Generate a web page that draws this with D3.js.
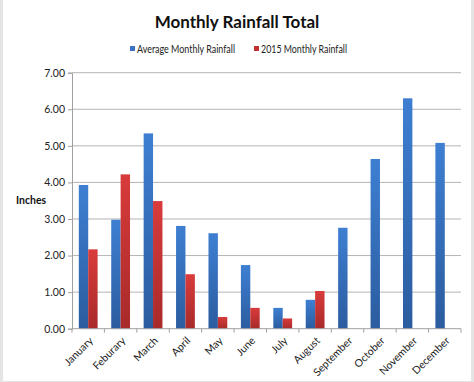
<!DOCTYPE html>
<html><head><meta charset="utf-8">
<script src="https://cdn.jsdelivr.net/npm/d3@7"></script>
<style>
html,body{margin:0;padding:0;background:#e4e4e4;}
svg{display:block;}
</style></head>
<body>
<svg id="c" width="474" height="382"></svg>
<script>
const months = ["January","Feburary","March","April","May","June","July","August","September","October","November","December"];
const avgRain = [3.93,2.98,5.34,2.81,2.61,1.74,0.57,0.79,2.76,4.64,6.30,5.08];
const rain2015 = [2.17,4.22,3.49,1.49,0.32,0.57,0.28,1.03,null,null,null,null];
const yTicks = [0,1,2,3,4,5,6,7];
const seriesNames = ["Average Monthly Rainfall","2015 Monthly Rainfall"];

const svg = d3.select("#c");
const font = "Lato, 'Open Sans', sans-serif";
svg.append("rect").attr("x",3).attr("y",0).attr("width",468).attr("height",381).attr("fill","#fff");

const defs = svg.append("defs");
function grad(id, c1, c2){
  const g = defs.append("linearGradient").attr("id",id).attr("x1",0).attr("y1",0).attr("x2",0).attr("y2",1);
  g.append("stop").attr("offset","0%").attr("stop-color",c1);
  g.append("stop").attr("offset","100%").attr("stop-color",c2);
}
grad("gb","#3e7fd2","#2b5c9f");
grad("gr","#d93b3b","#a82a2a");

const L=72, R=461, T=72.7, B=328.7;
const x = d3.scaleBand().domain(months).range([L,R]).paddingInner(0.42).paddingOuter(0.21);
const x1 = d3.scaleBand().domain([0,1]).range([0,x.bandwidth()]);
const y = d3.scaleLinear().domain([0,7]).range([B,T]);

// gridlines
svg.append("g").selectAll("line").data(yTicks.filter(d=>d>0)).join("line")
  .attr("x1",L).attr("x2",R).attr("y1",d=>y(d)).attr("y2",d=>y(d))
  .attr("stroke","#b4b4b4").attr("stroke-width",1);

// y axis
const ya = svg.append("g").attr("transform",`translate(${L},0)`)
  .call(d3.axisLeft(y).tickValues(yTicks).tickFormat(d3.format(".2f")).tickSize(4).tickPadding(3));
ya.select(".domain").attr("stroke","#a0a0a0");
ya.selectAll(".tick line").attr("stroke","#a0a0a0");
ya.selectAll("text").attr("font-family",font).attr("font-size",10.5).attr("fill","#222");

// bars
const g = svg.append("g");
months.forEach((m,i)=>{
  [avgRain[i], rain2015[i]].forEach((v,j)=>{
    if(v==null) return;
    g.append("rect").attr("x",x(m)+x1(j)).attr("width",x1.bandwidth())
      .attr("y",y(v)).attr("height",B-y(v)).attr("fill",j===0?"url(#gb)":"url(#gr)");
  });
});

// x axis
const xa = svg.append("g").attr("transform",`translate(0,${B})`);
xa.append("line").attr("x1",L).attr("x2",R).attr("stroke","#a0a0a0");
const step = x.step();
xa.selectAll(".tk").data(d3.range(13)).join("line").attr("class","tk")
  .attr("x1",d=>L+d*step).attr("x2",d=>L+d*step).attr("y1",0).attr("y2",4).attr("stroke","#a0a0a0");
xa.selectAll("text").data(months).join("text")
  .attr("transform",d=>`translate(${x(d)+x.bandwidth()/2+3},10) rotate(-45)`)
  .attr("text-anchor","end").attr("dy","0.35em")
  .attr("font-family",font).attr("font-size",10.5).attr("fill","#222").text(d=>d);

// y title
svg.append("text").attr("x",16).attr("y",y(3.5)).attr("dy","0.35em")
  .attr("font-family",font).attr("font-weight","bold").attr("font-size",10.5).attr("fill","#111").text("Inches");

// title
svg.append("text").attr("x",237).attr("y",28).attr("text-anchor","middle")
  .attr("font-family",font).attr("font-weight","bold").attr("font-size",17).attr("fill","#111").text("Monthly Rainfall Total");

// legend
const leg = svg.append("g");
const lx = [130,254];
const lw = [98,86];
seriesNames.forEach((n,j)=>{
  leg.append("rect").attr("x",lx[j]).attr("y",46).attr("width",5).attr("height",5).attr("fill",j===0?"#3a72c4":"#c03232");
  leg.append("text").attr("x",lx[j]+7).attr("y",49).attr("dy","0.35em")
    .attr("font-family",font).attr("font-size",10.5).attr("fill","#222")
    .attr("textLength",lw[j]).attr("lengthAdjust","spacingAndGlyphs").text(n);
});
</script>
</body></html>
